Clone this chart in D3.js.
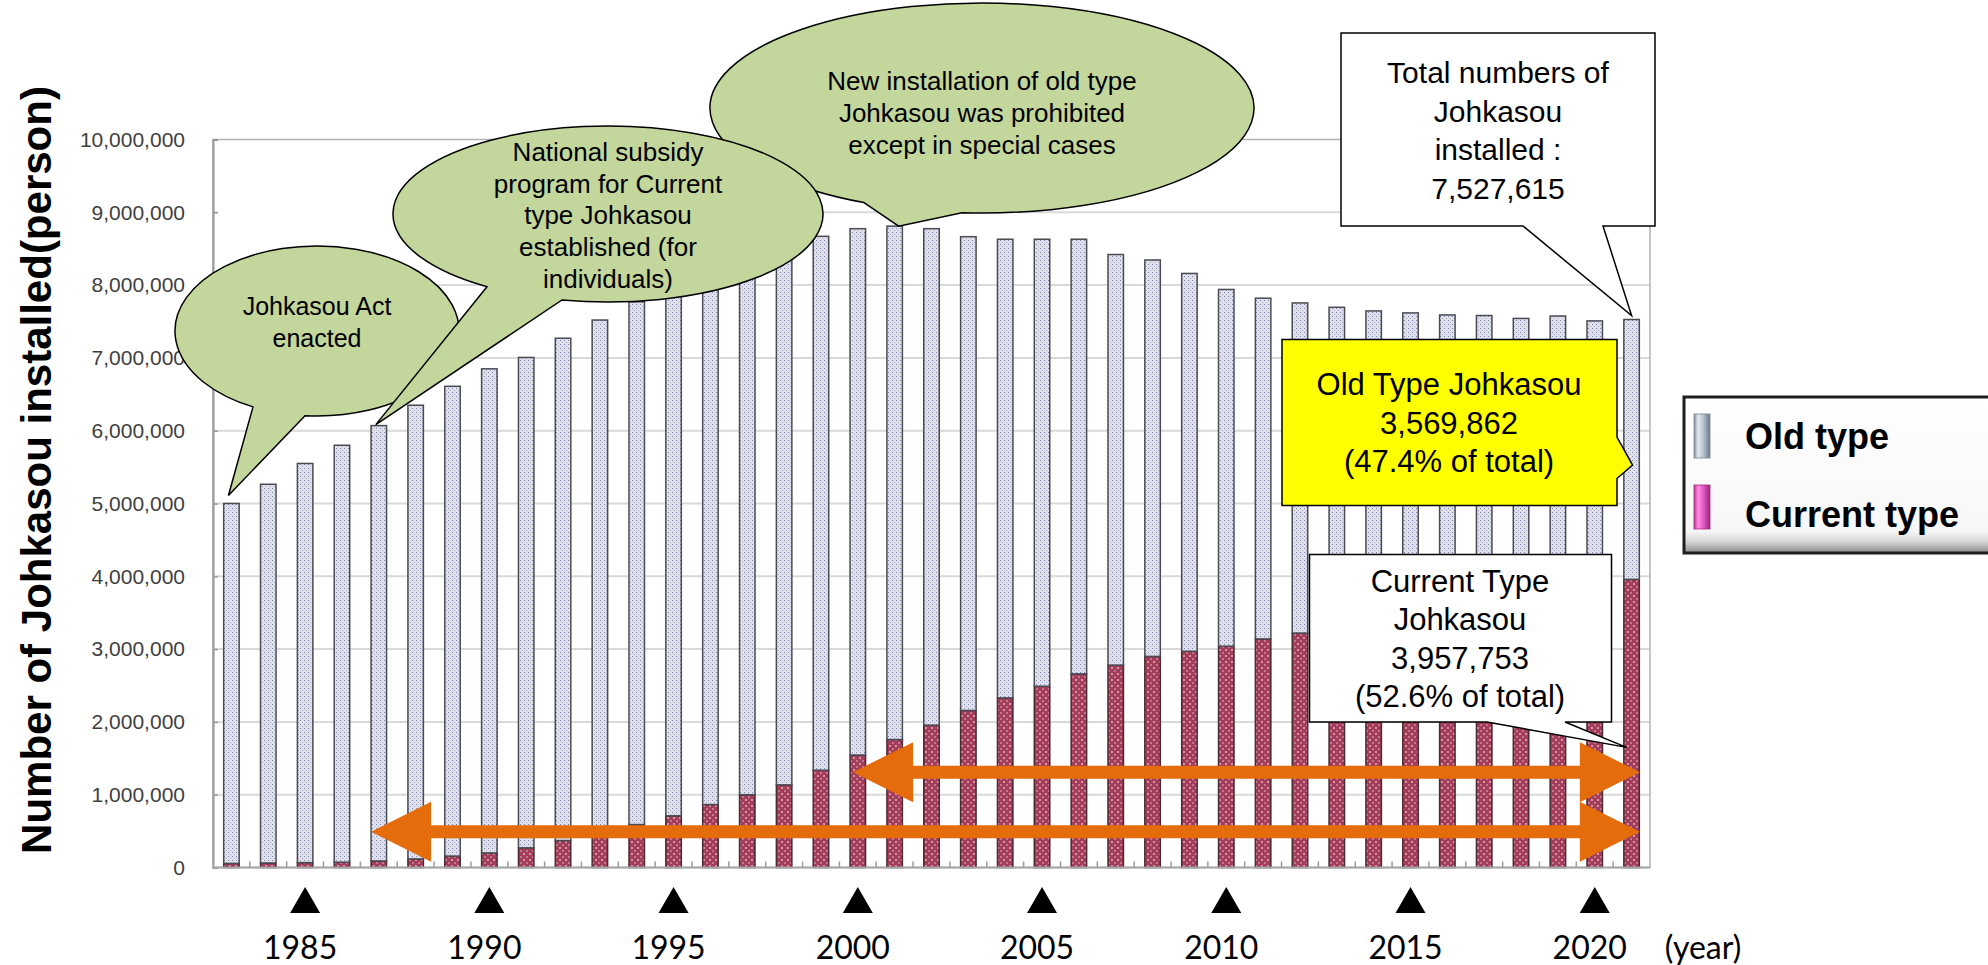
<!DOCTYPE html>
<meta charset="utf-8">
<style>
    body { margin: 0; background: #fff; }
    .grid line { stroke: #d9d9d9; stroke-width: 2px; }
    .ytick { font-family: "Liberation Sans", Arial, sans-serif; font-size: 21px; fill: #404040; }
    .note { font-family: "Liberation Sans", Arial, sans-serif; fill: #000; }
    .yr { font-family: Lato, "Open Sans", sans-serif; font-size: 32px; fill: #000; }
</style>
<svg width="1988" height="965"></svg>
<script src="https://cdn.jsdelivr.net/npm/d3@7"></script>
<script>

    var years = [1983, 1984, 1985, 1986, 1987, 1988, 1989, 1990, 1991, 1992,
                 1993, 1994, 1995, 1996, 1997, 1998, 1999, 2000, 2001, 2002,
                 2003, 2004, 2005, 2006, 2007, 2008, 2009, 2010, 2011, 2012,
                 2013, 2014, 2015, 2016, 2017, 2018, 2019, 2020, 2021];

    var currentType = [56000, 62000, 67000, 73000, 90000, 118000, 157000, 200000, 270000, 370000,
                       470000, 590000, 710000, 865000, 1000000, 1135000, 1337000, 1545000, 1758000, 1955000,
                       2157000, 2330000, 2490000, 2660000, 2780000, 2900000, 2970000, 3040000, 3140000, 3220000,
                       3310000, 3390000, 3470000, 3550000, 3640000, 3720000, 3800000, 3880000, 3957753];

    var oldType = [4944000, 5202000, 5483000, 5727000, 5980000, 6232000, 6453000, 6650000, 6736000, 6900000,
                   7050000, 7180000, 7290000, 7315000, 7350000, 7385000, 7333000, 7230000, 7052000, 6820000,
                   6508000, 6300000, 6140000, 5970000, 5640000, 5445000, 5190000, 4900000, 4680000, 4535000,
                   4385000, 4255000, 4148000, 4040000, 3942000, 3822000, 3775000, 3628000, 3569862];

    var yTicks = [0, 1000000, 2000000, 3000000, 4000000, 5000000, 6000000, 7000000, 8000000, 9000000, 10000000];
    var yearMarks = [1985, 1990, 1995, 2000, 2005, 2010, 2015, 2020];
    var legendLabels = ["Old type", "Current type"];

    var svg = d3.select("svg");
    var plotL = 213, plotR = 1650, plotT = 139.5, plotB = 867.5;

    var table = years.map(function(yr, i) { return {year: yr, current: currentType[i], old: oldType[i]}; });
    var series = d3.stack().keys(["current", "old"])(table);

    var x = d3.scaleBand().domain(years).range([plotL, plotR]).paddingInner(0.58).paddingOuter(0.29);
    var y = d3.scaleLinear().domain([0, 10000000]).range([plotB, plotT]);
    var bw = x.bandwidth();
    function cx(yr) { return x(yr) + bw / 2; }
    function total(i) { return currentType[i] + oldType[i]; }

    // fill patterns for the two bar types
    var defs = svg.append("defs");
    var pOld = defs.append("pattern").attr("id", "pOld").attr("patternUnits", "userSpaceOnUse")
        .attr("width", 4).attr("height", 4);
    pOld.append("rect").attr("width", 4).attr("height", 4).attr("fill", "#e0e1ea");
    pOld.append("rect").attr("width", 1).attr("height", 1).attr("fill", "#7c83b0");
    pOld.append("rect").attr("x", 2).attr("y", 2).attr("width", 1).attr("height", 1).attr("fill", "#a6abcc");
    var pCur = defs.append("pattern").attr("id", "pCur").attr("patternUnits", "userSpaceOnUse")
        .attr("width", 6).attr("height", 6);
    pCur.append("rect").attr("width", 6).attr("height", 6).attr("fill", "#a33d5a");
    pCur.append("rect").attr("x", 1).attr("y", 1).attr("width", 2).attr("height", 2).attr("fill", "#d394a6");
    pCur.append("rect").attr("x", 4).attr("y", 4).attr("width", 2).attr("height", 2).attr("fill", "#c07890");

    var gOld = defs.append("linearGradient").attr("id", "swOld");
    [["0", "#7f8b9c"], ["0.25", "#e4eaf1"], ["0.6", "#b4bfcc"], ["1", "#6c7888"]].forEach(function(s) {
        gOld.append("stop").attr("offset", s[0]).attr("stop-color", s[1]);
    });
    var gCur = defs.append("linearGradient").attr("id", "swCur");
    [["0", "#b8308e"], ["0.25", "#ff8ee0"], ["0.6", "#e058c0"], ["1", "#9a2478"]].forEach(function(s) {
        gCur.append("stop").attr("offset", s[0]).attr("stop-color", s[1]);
    });
    var gLeg = defs.append("linearGradient").attr("id", "legBg").attr("x1", 0).attr("x2", 0).attr("y1", 0).attr("y2", 1);
    [["0", "#ffffff"], ["0.86", "#f7f7f7"], ["0.93", "#d4d4d4"], ["1", "#8a8a8a"]].forEach(function(s) {
        gLeg.append("stop").attr("offset", s[0]).attr("stop-color", s[1]);
    });

    // grid
    svg.append("g").attr("class", "grid").selectAll("line")
        .data(yTicks.slice(1, -1)).enter().append("line")
        .attr("x1", plotL).attr("x2", plotR)
        .attr("y1", function(d) { return y(d); }).attr("y2", function(d) { return y(d); });

    // blank patch in the top left of the plot
    svg.append("rect").attr("x", plotL + 5).attr("y", plotT + 5).attr("width", 175).attr("height", 100).attr("fill", "#fff");

    svg.append("rect").attr("x", plotL).attr("y", plotT).attr("width", plotR - plotL).attr("height", plotB - plotT)
        .attr("fill", "none").attr("stroke", "#b3b3b3").attr("stroke-width", 1.5);

    // y axis
    var yAxis = svg.append("g").attr("transform", "translate(" + plotL + ",0)")
        .call(d3.axisLeft(y).tickValues(yTicks).tickSize(-5).tickPadding(28).tickFormat(d3.format(",")));
    yAxis.select(".domain").attr("stroke", "#999").attr("stroke-width", 2);
    yAxis.selectAll(".tick line").attr("stroke", "#999").attr("stroke-width", 1.5);
    yAxis.selectAll(".tick text").attr("class", "ytick").attr("font-size", null).attr("font-family", null).attr("fill", null);
    yAxis.attr("font-size", null).attr("font-family", null);

    svg.append("text").attr("class", "note")
        .attr("transform", "translate(51,470) rotate(-90)")
        .attr("text-anchor", "middle").attr("font-weight", "bold").attr("font-size", 42)
        .text("Number of Johkasou installed(person)");

    // bars
    svg.append("g").selectAll("g")
        .data(series).enter().append("g")
        .attr("fill", function(d) { return d.key === "old" ? "url(#pOld)" : "url(#pCur)"; })
        .attr("stroke", function(d) { return d.key === "old" ? "#4a4a52" : "#4a2a34"; })
        .attr("stroke-width", 1.5)
        .selectAll("rect")
        .data(function(d) { return d; }).enter().append("rect")
        .attr("x", function(d) { return x(d.data.year); })
        .attr("width", bw)
        .attr("y", function(d) { return y(d[1]); })
        .attr("height", function(d) { return y(d[0]) - y(d[1]); });

    // x axis with ticks between the bars
    var step = x.step();
    svg.append("g").selectAll("line")
        .data(years.slice(1)).enter().append("line")
        .attr("x1", function(d) { return x(d) - step * 0.29; })
        .attr("x2", function(d) { return x(d) - step * 0.29; })
        .attr("y1", plotB).attr("y2", plotB - 6)
        .attr("stroke", "#999").attr("stroke-width", 1.5);
    svg.append("line").attr("x1", plotL).attr("x2", plotR).attr("y1", plotB).attr("y2", plotB)
        .attr("stroke", "#a6a6a6").attr("stroke-width", 2);

    // year markers
    var marks = svg.append("g").selectAll("g").data(yearMarks).enter().append("g");
    marks.append("path")
        .attr("d", function(d) { var c = cx(d); return "M" + (c - 15) + ",913L" + c + ",887L" + (c + 15) + ",913Z"; })
        .attr("fill", "#000");
    marks.append("text").attr("class", "yr")
        .attr("x", function(d) { return cx(d) - 5; }).attr("y", 959)
        .attr("text-anchor", "middle").text(function(d) { return d; });
    svg.append("text").attr("class", "yr").attr("x", 1703).attr("y", 959).attr("text-anchor", "middle").text("(year)");

    // orange double arrows
    function arrow(x1, x2, yc) {
        var h = 30, s = 6.5, L = 60;
        return "M" + x1 + "," + yc + "L" + (x1 + L) + "," + (yc - h) + "L" + (x1 + L) + "," + (yc - s) +
            "L" + (x2 - L) + "," + (yc - s) + "L" + (x2 - L) + "," + (yc - h) + "L" + x2 + "," + yc +
            "L" + (x2 - L) + "," + (yc + h) + "L" + (x2 - L) + "," + (yc + s) + "L" + (x1 + L) + "," + (yc + s) +
            "L" + (x1 + L) + "," + (yc + h) + "Z";
    }
    var endX = x(2021) + bw + 0.5;
    svg.append("path").attr("d", arrow(x(2000) + 3, endX, y(1310000))).attr("fill", "#e46c0a");
    svg.append("path").attr("d", arrow(x(1987), endX, y(490000))).attr("fill", "#e46c0a");

    // rectangular callouts
    var last = years.length - 1, lx = cx(2021);
    svg.append("path")
        .attr("d", "M1341,33H1655V226H1603L" + lx + "," + (y(total(last)) - 4) + "L1523,226H1341Z")
        .attr("fill", "#fff").attr("stroke", "#000").attr("stroke-width", 1.5);
    svg.append("path")
        .attr("d", "M1282,339.5H1617V437L" + (lx + 1) + "," + y(currentType[last] + oldType[last] * 0.44) +
            "L1617,478.5V505.5H1282Z")
        .attr("fill", "#ffff00").attr("stroke", "#000").attr("stroke-width", 1.5);
    svg.append("path")
        .attr("d", "M1309.5,554.5H1611.5V722H1565L" + (lx - 5) + "," + y(1650000) + "L1487,722H1309.5Z")
        .attr("fill", "#fff").attr("stroke", "#000").attr("stroke-width", 1.5);

    function lines(cxp, baselines, size, txt) {
        var t = svg.append("text").attr("class", "note").attr("font-size", size).attr("text-anchor", "middle");
        txt.forEach(function(s, i) { t.append("tspan").attr("x", cxp).attr("y", baselines[i]).text(s); });
    }
    lines(1498, [83, 121.5, 160, 198.5], 30, ["Total numbers of", "Johkasou", "installed :", "7,527,615"]);
    lines(1449, [395, 433.5, 472], 31, ["Old Type Johkasou", "3,569,862", "(47.4% of total)"]);
    lines(1460, [591.5, 630, 668.5, 707], 31, ["Current Type", "Johkasou", "3,957,753", "(52.6% of total)"]);

    // speech bubbles
    function bubble(c, tip) {
        function py(px) { return c.cy + c.ry * Math.sqrt(1 - Math.pow((px - c.cx) / c.rx, 2)); }
        var p1 = [c.b1, py(c.b1)], p2 = [c.b2, py(c.b2)];
        return "M" + p1 + "L" + tip + "L" + p2 + "A" + c.rx + "," + c.ry + " 0 1 0 " + p1 + "Z";
    }
    var b1 = {cx: 317, cy: 331, rx: 142, ry: 85, b1: 253, b2: 305};
    var b2 = {cx: 608, cy: 214, rx: 215, ry: 88, b1: 487, b2: 562};
    var b3 = {cx: 982, cy: 108, rx: 272, ry: 105, b1: 864, b2: 962};
    [[b1, [cx(1983) - 3, y(total(0)) - 8]], [b3, [cx(2001) + 4, y(total(18))]], [b2, [cx(1987) - 3, y(total(4)) - 1]]]
        .forEach(function(b) {
            svg.append("path").attr("d", bubble(b[0], b[1]))
                .attr("fill", "#c3d69b").attr("stroke", "#000").attr("stroke-width", 1.5);
        });
    lines(317, [315, 347], 25, ["Johkasou Act", "enacted"]);
    lines(982, [90, 122, 153.5], 26, ["New installation of old type", "Johkasou was prohibited", "except in special cases"]);
    lines(608, [161, 192.5, 224, 256, 287.5], 26,
        ["National subsidy", "program for Current", "type Johkasou", "established (for", "individuals)"]);

    // legend
    var lg = svg.append("g");
    lg.append("rect").attr("x", 1684).attr("y", 397).attr("width", 330).attr("height", 156)
        .attr("fill", "url(#legBg)").attr("stroke", "#1e1e1e").attr("stroke-width", 3);
    lg.selectAll("rect.sw").data(legendLabels).enter().append("rect").attr("class", "sw")
        .attr("x", 1694).attr("width", 16).attr("height", 44)
        .attr("y", function(d, i) { return 414 + i * 71; })
        .attr("fill", function(d, i) { return i === 0 ? "url(#swOld)" : "url(#swCur)"; })
        .attr("stroke", function(d, i) { return i === 0 ? "#7a8594" : "#a52a80"; }).attr("stroke-width", 0.8);
    lg.selectAll("text").data(legendLabels).enter().append("text").attr("class", "note")
        .attr("x", 1745).attr("y", function(d, i) { return 449 + i * 78; })
        .attr("font-size", 36).attr("font-weight", "bold")
        .text(function(d) { return d; });

</script>
